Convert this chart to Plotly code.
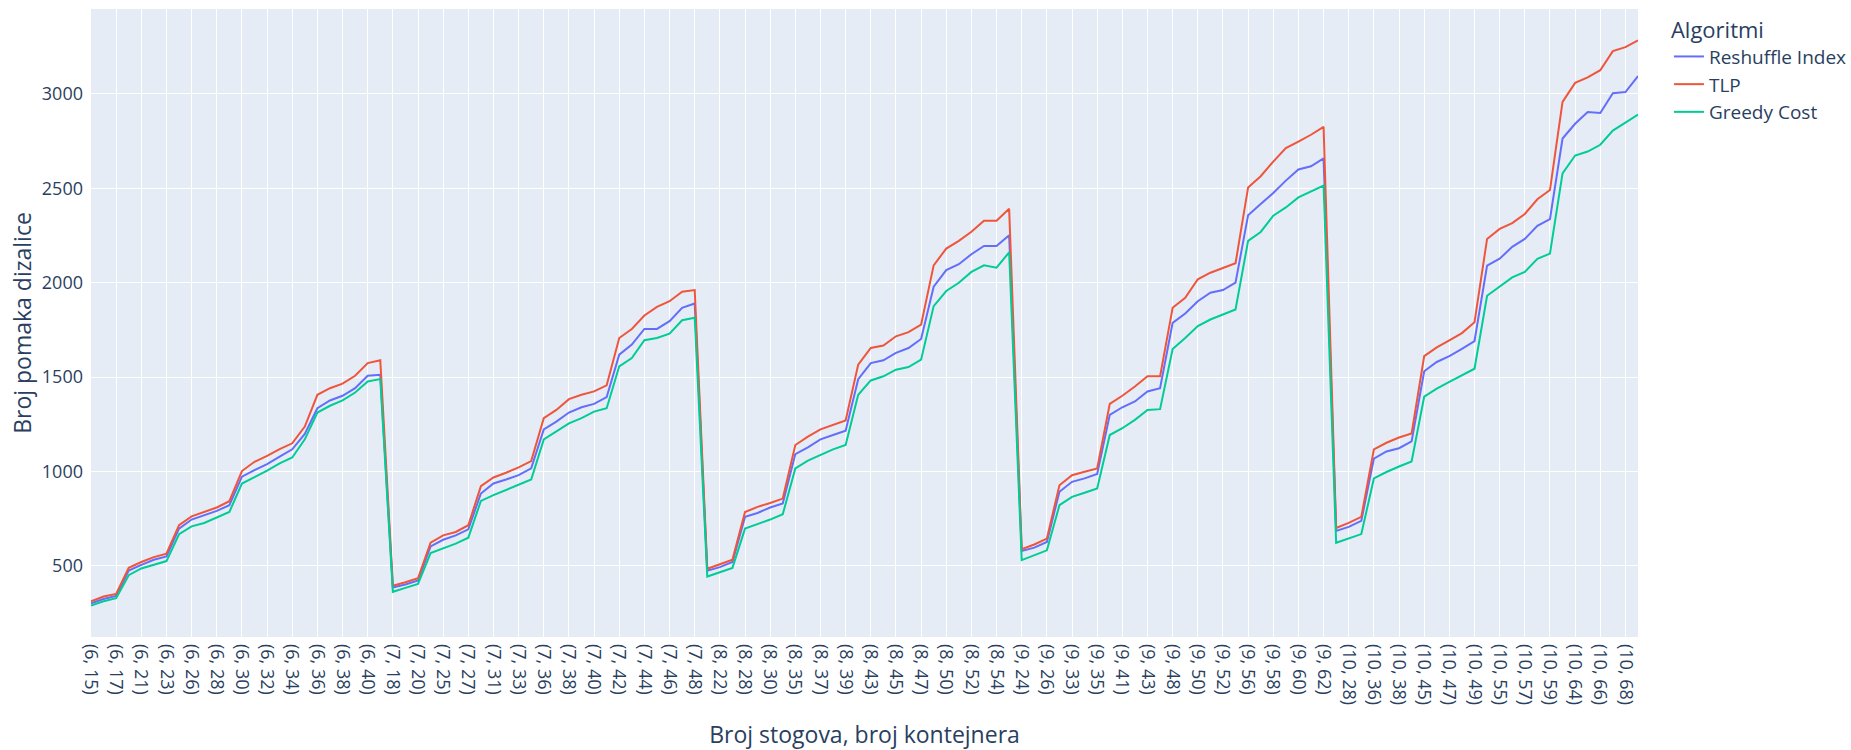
import plotly.graph_objects as go

# Container counts tested for each number of stacks
stacks = [6, 7, 8, 9, 10]
containers = {
    6: [15, 16, 17, 20, 21, 22, 23, 25, 26, 27, 28, 29, 30, 31, 32, 33, 34, 35, 36, 37, 38, 39, 40, 41],
    7: [18, 19, 20, 24, 25, 26, 27, 30, 31, 32, 33, 34, 36, 37, 38, 39, 40, 41, 42, 43, 44, 45, 46, 47, 48],
    8: [21, 22, 23, 28, 29, 30, 31, 35, 36, 37, 38, 39, 42, 43, 44, 45, 46, 47, 49, 50, 51, 52, 53, 54, 55],
    9: [24, 25, 26, 32, 33, 34, 35, 40, 41, 42, 43, 44, 48, 49, 50, 51, 52, 53, 56, 57, 58, 59, 60, 61, 62],
    10: [27, 28, 29, 36, 37, 38, 39, 45, 46, 47, 48, 49, 54, 55, 56, 57, 58, 59, 63, 64, 65, 66, 67, 68, 69],
}

# Crane moves per algorithm, in the same order as the categories
reshuffle_index = [
    301, 324, 340, 475, 505, 532, 550, 697, 745, 768, 791, 821, 972, 1007, 1039, 1078, 1117, 1199, 1335, 1376, 1401, 1441, 1507, 1512,
    385, 401, 422, 603, 638, 661, 693, 883, 936, 957, 980, 1016, 1223, 1264, 1312, 1340, 1358, 1394, 1619, 1672, 1755, 1755, 1796, 1867, 1890,
    474, 493, 520, 759, 780, 809, 830, 1092, 1128, 1170, 1193, 1216, 1489, 1574, 1589, 1628, 1654, 1702, 1979, 2067, 2098, 2151, 2195, 2195, 2252,
    578, 596, 626, 892, 945, 963, 986, 1300, 1340, 1371, 1424, 1441, 1787, 1837, 1902, 1947, 1961, 2000, 2358, 2417, 2475, 2541, 2600, 2617, 2659,
    685, 706, 738, 1068, 1106, 1123, 1159, 1531, 1580, 1611, 1649, 1691, 2091, 2127, 2190, 2232, 2301, 2337, 2764, 2842, 2905, 2899, 3004, 3010, 3095,
]
tlp = [
    312, 337, 351, 489, 520, 546, 564, 715, 762, 785, 809, 842, 1002, 1051, 1082, 1118, 1149, 1238, 1406, 1441, 1465, 1507, 1574, 1589,
    395, 413, 434, 622, 661, 679, 715, 922, 968, 993, 1021, 1055, 1282, 1326, 1383, 1406, 1424, 1456, 1707, 1755, 1826, 1872, 1902, 1952, 1961,
    484, 507, 532, 785, 812, 833, 856, 1140, 1184, 1223, 1246, 1270, 1566, 1654, 1667, 1716, 1738, 1778, 2092, 2181, 2222, 2270, 2328, 2328, 2392,
    588, 613, 644, 927, 980, 998, 1016, 1358, 1401, 1450, 1504, 1504, 1867, 1920, 2018, 2053, 2080, 2103, 2505, 2564, 2642, 2713, 2748, 2784, 2826,
    700, 727, 759, 1117, 1152, 1180, 1201, 1611, 1657, 1695, 1733, 1790, 2232, 2285, 2316, 2364, 2442, 2491, 2958, 3059, 3088, 3126, 3227, 3248, 3284,
]
greedy_cost = [
    289, 312, 328, 450, 486, 507, 525, 667, 709, 727, 755, 785, 936, 968, 1004, 1043, 1074, 1170, 1312, 1348, 1376, 1418, 1477, 1489,
    362, 383, 404, 567, 590, 617, 649, 844, 874, 901, 927, 957, 1170, 1211, 1255, 1282, 1317, 1335, 1557, 1601, 1695, 1707, 1730, 1801, 1814,
    443, 466, 489, 697, 720, 745, 773, 1016, 1057, 1087, 1117, 1140, 1406, 1482, 1504, 1539, 1553, 1592, 1876, 1956, 2000, 2057, 2092, 2080, 2161,
    530, 555, 582, 821, 865, 887, 910, 1193, 1229, 1273, 1326, 1330, 1649, 1707, 1770, 1805, 1832, 1858, 2222, 2269, 2355, 2399, 2452, 2482, 2515,
    622, 647, 668, 963, 997, 1026, 1053, 1396, 1439, 1474, 1510, 1544, 1931, 1979, 2028, 2057, 2127, 2154, 2579, 2674, 2695, 2731, 2806, 2848, 2891,
]

categories = [f"({s}, {c})" for s in stacks for c in containers[s]]

series = [
    ("Reshuffle Index", reshuffle_index, "#636efa"),
    ("TLP", tlp, "#EF553B"),
    ("Greedy Cost", greedy_cost, "#00cc96"),
]

fig = go.Figure()
for name, values, color in series:
    fig.add_trace(go.Scatter(
        x=categories, y=values, mode="lines", name=name,
        line=dict(color=color, width=2),
    ))

fig.update_layout(
    template="plotly",
    width=1851, height=750,
    margin=dict(l=91, r=213, t=9, b=113, autoexpand=False),
    font=dict(family="Open Sans, Verdana, Arial, sans-serif", size=18, color="#2a3f5f"),
    legend=dict(
        title=dict(text="Algoritmi", font=dict(size=22)),
        font=dict(size=19),
    ),
    xaxis=dict(
        title=dict(text="Broj stogova, broj kontejnera", font=dict(size=23), standoff=26),
        type="category", tickangle=90, tickmode="linear", tick0=0, dtick=2,
        tickfont=dict(size=18), ticklabelstandoff=6, automargin=False,
    ),
    yaxis=dict(
        title=dict(text="Broj pomaka dizalice", font=dict(size=23), standoff=3),
        tickfont=dict(size=18), ticklabelstandoff=7, automargin=False,
    ),
)

fig.write_html("out.html")
